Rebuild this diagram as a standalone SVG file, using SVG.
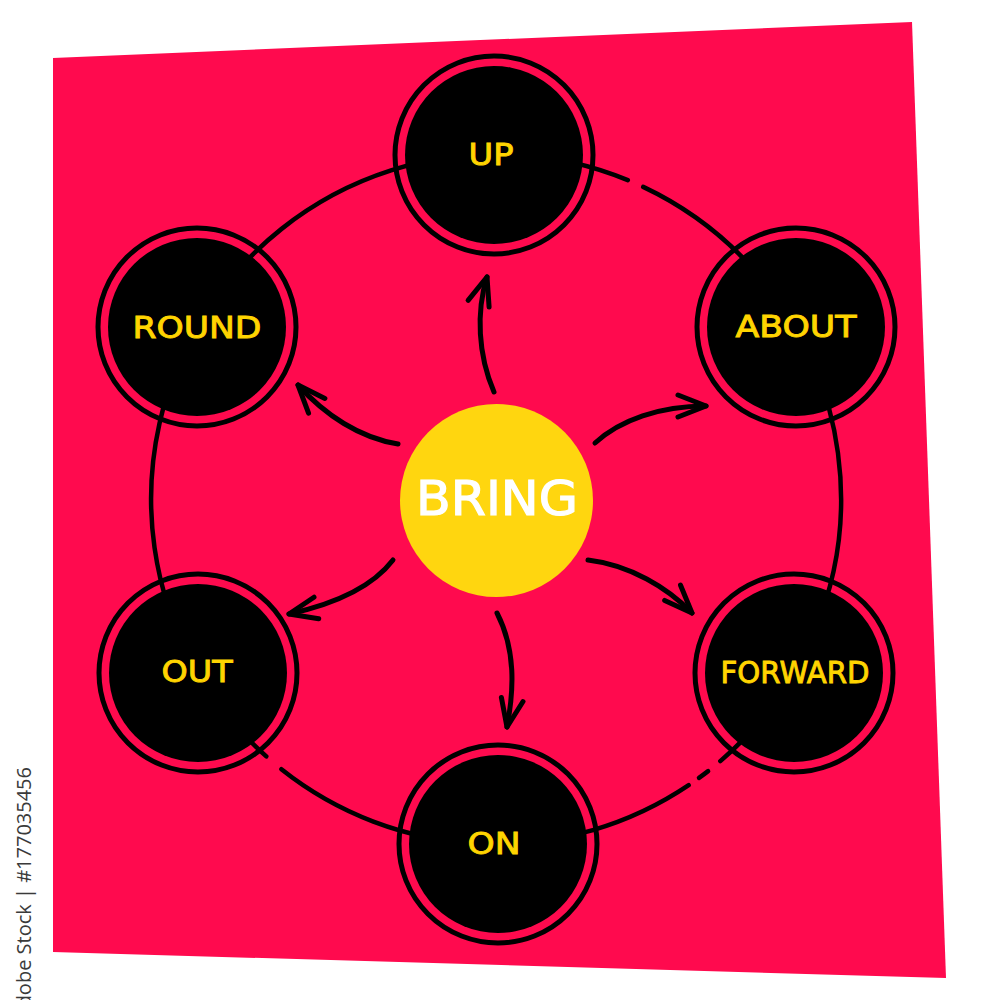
<svg xmlns="http://www.w3.org/2000/svg" width="1000" height="1000" viewBox="0 0 1000 1000">
  <defs>
    <style>
      .ring { fill: none; stroke: #000; stroke-width: 5; }
      .core { fill: #000; }
      .lbl { font-family: "DejaVu Sans", "Liberation Sans", sans-serif; font-size: 30px; fill: #FFD400; stroke: #FFD400; stroke-width: 0.9; text-anchor: middle; }
      .conn { fill: none; stroke: #000; stroke-width: 4.5; stroke-linecap: round; }
      .arr { fill: none; stroke: #000; stroke-width: 5; stroke-linecap: round; stroke-linejoin: round; marker-end: url(#chev); }
    </style>
    <marker id="chev" markerUnits="userSpaceOnUse" viewBox="-32 -14 36 28" refX="0" refY="0" markerWidth="36" markerHeight="28" orient="auto" overflow="visible">
      <path d="M-28,-11 L0,0 L-28,11" fill="none" stroke="#000" stroke-width="5" stroke-linecap="round" stroke-linejoin="round"/>
    </marker>
  </defs>

  <rect width="1000" height="1000" fill="#fff"/>
  <polygon points="53,58 912,22 946,978 53,952" fill="#FF0A4E"/>
  <text transform="translate(31,767) rotate(-90)" font-family="Open Sans, sans-serif" font-size="20" fill="#3a3a3a" text-anchor="end">Adobe Stock | #177035456</text>

  <g id="connectors">
    <path class="conn" d="M643.2,186.9 A345,345 0 0 1 720.3,761.1"/>
    <path class="conn" d="M708.1,771.1 A345,345 0 0 1 699.0,777.9"/>
    <path class="conn" d="M688.7,785.2 A345,345 0 0 1 281.4,769.2"/>
    <path class="conn" d="M266.3,756.4 A345,345 0 0 1 627.8,180.2"/>
    <path class="arr" d="M494,392 C478,355 476,312 487,277"/>
    <path class="arr" d="M398,444 C360,438 325,415 298,385"/>
    <path class="arr" d="M595,443 C620,420 660,406 706,406"/>
    <path class="arr" d="M393,560 C370,590 330,605 289,614"/>
    <path class="arr" d="M588,560 C630,565 668,588 692,613"/>
    <path class="arr" d="M497,613 C516,650 514,690 507,727"/>
  </g>

  <g id="node-up">
    <circle class="ring" cx="494" cy="155" r="99"/>
    <circle class="core" cx="494" cy="155" r="89"/>
    <text class="lbl" x="491" y="165" font-size="31" textLength="45" lengthAdjust="spacingAndGlyphs">UP</text>
  </g>
  <g id="node-about">
    <circle class="ring" cx="796" cy="327" r="99"/>
    <circle class="core" cx="796" cy="327" r="89"/>
    <text class="lbl" x="796" y="337" textLength="121" lengthAdjust="spacingAndGlyphs">ABOUT</text>
  </g>
  <g id="node-forward">
    <circle class="ring" cx="794" cy="673" r="99"/>
    <circle class="core" cx="794" cy="673" r="89"/>
    <text class="lbl" x="795" y="683" font-size="28" textLength="149" lengthAdjust="spacingAndGlyphs">FORWARD</text>
  </g>
  <g id="node-on">
    <circle class="ring" cx="498" cy="844" r="99"/>
    <circle class="core" cx="498" cy="844" r="89"/>
    <text class="lbl" x="494" y="854" textLength="53" lengthAdjust="spacingAndGlyphs">ON</text>
  </g>
  <g id="node-out">
    <circle class="ring" cx="198" cy="673" r="99"/>
    <circle class="core" cx="198" cy="673" r="89"/>
    <text class="lbl" x="197" y="682" textLength="71" lengthAdjust="spacingAndGlyphs">OUT</text>
  </g>
  <g id="node-round">
    <circle class="ring" cx="197" cy="327" r="99"/>
    <circle class="core" cx="197" cy="327" r="89"/>
    <text class="lbl" x="197" y="338" textLength="129" lengthAdjust="spacingAndGlyphs">ROUND</text>
  </g>
  <g id="node-bring">
    <circle cx="496.5" cy="500.5" r="96.5" fill="#FFD60F"/>
    <text x="497" y="515" font-family="DejaVu Sans, Liberation Sans, sans-serif" font-size="48" fill="#fff" stroke="#fff" stroke-width="1.2" text-anchor="middle" textLength="162" lengthAdjust="spacingAndGlyphs">BRING</text>
  </g>
</svg>
